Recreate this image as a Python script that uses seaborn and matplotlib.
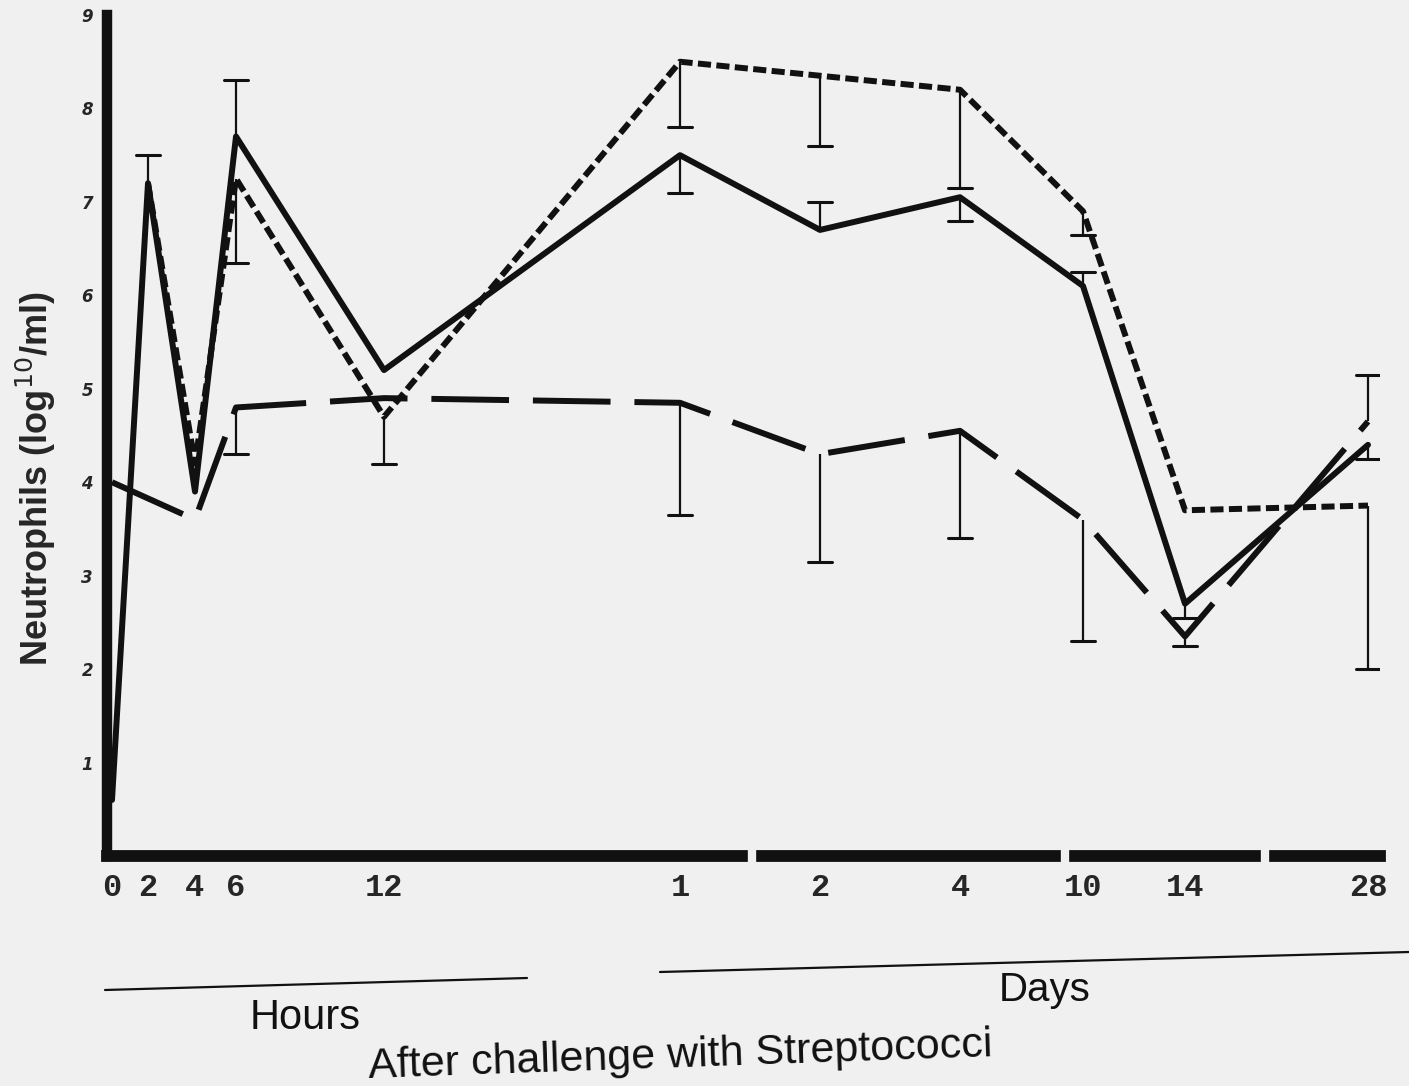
import numpy as np
import pandas as pd
import matplotlib
matplotlib.use("Agg")
import matplotlib.pyplot as plt
import seaborn as sns
from matplotlib.lines import Line2D

# time points (hours 0-12, then days 1-28) and where they sit on the time axis
time_labels = ['0', '2', '4', '6', '12', '1', '2', '4', '10', '14', '28']
time_pos = [112, 148, 195, 236, 384, 680, 820, 960, 1083, 1185, 1368]

# neutrophils, log10/ml
solid = [0.6, 7.2, 3.9, 7.7, 5.2, 7.5, 6.7, 7.05, 6.1, 2.7, 4.4]
short_dash = [np.nan, 7.2, 4.2, 7.25, 4.7, 8.5, 8.35, 8.2, 6.9, 3.7, 3.75]
long_dash = [4.0, np.nan, 3.6, 4.8, 4.9, 4.85, 4.3, 4.55, 3.6, 2.35, 4.65]

# end of the one-sided error bars (nan = no bar)
solid_err = [np.nan, 7.5, np.nan, 8.3, np.nan, 7.1, 7.0, 6.8, 6.25, 2.55, 4.25]
short_err = [np.nan, np.nan, np.nan, 6.35, 4.2, 7.8, 7.6, 7.15, 6.65, np.nan, 2.0]
long_err = [np.nan, np.nan, np.nan, 4.3, np.nan, 3.65, 3.15, 3.4, 2.3, 2.25, 5.15]

bg = '#f0f0f0'
ink = '#111111'

rows = []
for name, vals in [('solid', solid), ('short', short_dash), ('long', long_dash)]:
    for x, v in zip(time_pos, vals):
        rows.append({'x': x, 'value': v, 'series': name})
df = pd.DataFrame(rows).dropna()

sns.set_style("white")
fig = plt.figure(figsize=(14.09, 10.86), dpi=100, facecolor=bg)
ax = fig.add_axes([107 / 1409, 1 - 856 / 1086, (1380 - 107) / 1409, (856 - 15) / 1086])
ax.set_facecolor(bg)

sns.lineplot(data=df, x='x', y='value', style='series', ax=ax, color=ink,
             linewidth=4.3, legend=False, sort=False,
             dashes={'solid': '', 'short': (2.2, 0.9), 'long': (13, 4)})

# error bars: thin stem plus cap at the far end only
for vals, errs in [(solid, solid_err), (short_dash, short_err), (long_dash, long_err)]:
    for x, v, e in zip(time_pos, vals, errs):
        if np.isnan(e):
            continue
        ax.plot([x, x], [v, e], color=ink, lw=1.6, solid_capstyle='butt', zorder=3)
        ax.plot([x - 12, x + 12], [e, e], color=ink, lw=2.2, zorder=3)

ax.set_xlim(107, 1380)
ax.set_ylim(0, 9)
sns.despine(ax=ax)
ax.spines['left'].set_linewidth(7.5)
ax.spines['bottom'].set_linewidth(8.5)
ax.spines['left'].set_color(ink)
ax.spines['bottom'].set_color(ink)

# breaks in the time axis
for xb in [752, 1065, 1265]:
    ax.plot([xb, xb], [-0.12, 0.12], color=bg, lw=6, clip_on=False, zorder=5)

ax.set_yticks(range(1, 10))
ax.set_yticklabels([str(i) for i in range(1, 10)], fontsize=12,
                   fontstyle='italic', fontweight='bold', family='DejaVu Sans')
ax.set_xticks(time_pos)
ax.set_xticklabels(time_labels, fontsize=23, fontweight='bold', family='Liberation Mono')
ax.tick_params(axis='both', length=0)
ax.tick_params(axis='x', pad=12)
ax.tick_params(axis='y', pad=10)

ax.set_xlabel('')
ax.set_ylabel('Neutrophils (log$^{10}$/ml)', fontsize=26, fontweight='bold',
              family='Liberation Sans')
ax.yaxis.set_label_coords(-0.0385, 0.449)

# Hours / Days brackets and the axis caption
fig.add_artist(Line2D([105 / 1409, 527 / 1409], [1 - 990 / 1086, 1 - 978 / 1086],
                      color=ink, lw=1.6))
fig.add_artist(Line2D([660 / 1409, 1409 / 1409], [1 - 972 / 1086, 1 - 952 / 1086],
                      color=ink, lw=1.6))
fig.text(305 / 1409, 1 - 1018 / 1086, 'Hours', fontsize=30, family='Liberation Sans',
         ha='center', va='center', color=ink)
fig.text(1045 / 1409, 1 - 990 / 1086, 'Days', fontsize=29, family='Liberation Sans',
         ha='center', va='center', color=ink)
fig.text(680 / 1409, 1 - 1056 / 1086, 'After challenge with Streptococci', fontsize=31,
         family='Liberation Sans', ha='center', va='center', rotation=2, color=ink)

fig.savefig('out.png', dpi=100, facecolor=bg)
